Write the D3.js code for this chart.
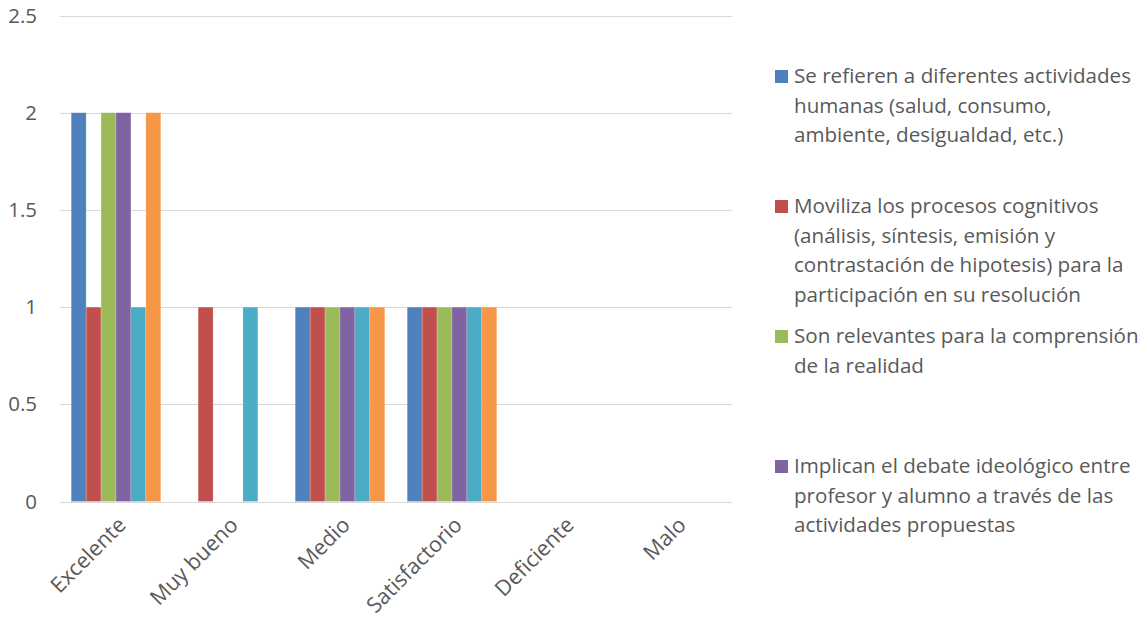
<!DOCTYPE html>
<html lang="es">
<head>
<meta charset="UTF-8">
<title>Valoración de las actividades</title>
<script src="https://cdnjs.cloudflare.com/ajax/libs/d3/7.8.5/d3.min.js"></script>
<style>
  body { margin: 0; background: #fff; }
  svg text { font-family: "Open Sans", "Noto Sans", sans-serif; fill: #595959; }
  .grid line { stroke: #d9d9d9; stroke-width: 1; }
</style>
</head>
<body>
<div id="chart"></div>
<script>
const categories = ["Excelente", "Muy bueno", "Medio", "Satisfactorio", "Deficiente", "Malo"];

// one array per series, values in category order
const serie1 = [2, 0, 1, 1, 0, 0];
const serie2 = [1, 1, 1, 1, 0, 0];
const serie3 = [2, 0, 1, 1, 0, 0];
const serie4 = [2, 0, 1, 1, 0, 0];
const serie5 = [1, 1, 1, 1, 0, 0];
const serie6 = [2, 0, 1, 1, 0, 0];
const seriesValues = [serie1, serie2, serie3, serie4, serie5, serie6];

const colors = ["#4F81BD", "#C0504D", "#9BBB59", "#8064A2", "#4BACC6", "#F79646"];

// only the first four entries fit in the legend box
const legendLabels = [
  ["Se refieren a diferentes actividades", "humanas (salud, consumo,", "ambiente, desigualdad, etc.)"],
  ["Moviliza los procesos cognitivos", "(análisis, síntesis, emisión y", "contrastación de hipotesis) para la", "participación en su resolución"],
  ["Son relevantes para la comprensión", "de la realidad"],
  ["Implican el debate ideológico entre", "profesor y alumno a través de las", "actividades propuestas"]
];

const yTicks = [0, 0.5, 1, 1.5, 2, 2.5];

const width = 1148, height = 623;
const svg = d3.select("#chart").append("svg")
  .attr("width", width).attr("height", height);

const x = d3.scaleBand().domain(categories).range([60, 732])
  .paddingInner(0.2).paddingOuter(0.1);
const xs = d3.scaleBand().domain(d3.range(seriesValues.length))
  .range([0, x.bandwidth()]);
const y = d3.scaleLinear().domain([0, 2.5]).range([501.5, 15.5]);

// gridlines
svg.append("g").attr("class", "grid")
  .selectAll("line").data(yTicks).join("line")
  .attr("x1", 60).attr("x2", 732)
  .attr("y1", d => Math.round(y(d)) + 0.5).attr("y2", d => Math.round(y(d)) + 0.5);

// y labels
svg.append("g").selectAll("text").data(yTicks).join("text")
  .attr("x", 37).attr("y", d => y(d)).attr("dy", "0.35em")
  .attr("text-anchor", "end").style("font-size", "20.5px")
  .text(d => d);

// bars
const groups = svg.append("g").selectAll("g").data(categories).join("g")
  .attr("transform", d => `translate(${x(d)},0)`);
groups.selectAll("rect")
  .data((c, ci) => seriesValues.map((s, si) => ({ si, v: s[ci] })))
  .join("rect")
  .attr("x", d => xs(d.si)).attr("width", xs.bandwidth())
  .attr("y", d => y(d.v)).attr("height", d => y(0) - y(d.v))
  .attr("fill", d => colors[d.si])
  .attr("stroke", "#fff").attr("stroke-opacity", 0.35).attr("stroke-width", 0.6);

// x labels
svg.append("g").selectAll("text").data(categories).join("text")
  .attr("transform", d => `translate(${x(d) + x.bandwidth() / 2 + 6},521) rotate(-45)`)
  .attr("text-anchor", "end").attr("dy", "0.35em").style("font-size", "21.5px")
  .text(d => d);

// legend
const legend = svg.append("g").selectAll("g").data(legendLabels).join("g")
  .attr("transform", (d, i) => `translate(775,${76 + i * 130})`);
legend.append("rect").attr("x", 0).attr("y", -6).attr("width", 13).attr("height", 13)
  .attr("fill", (d, i) => colors[i]);
legend.append("text").style("font-size", "20.6px")
  .selectAll("tspan").data(d => d).join("tspan")
  .attr("x", 19).attr("y", (d, i) => i * 29.5).attr("dy", "0.35em")
  .text(d => d);
</script>
</body>
</html>
